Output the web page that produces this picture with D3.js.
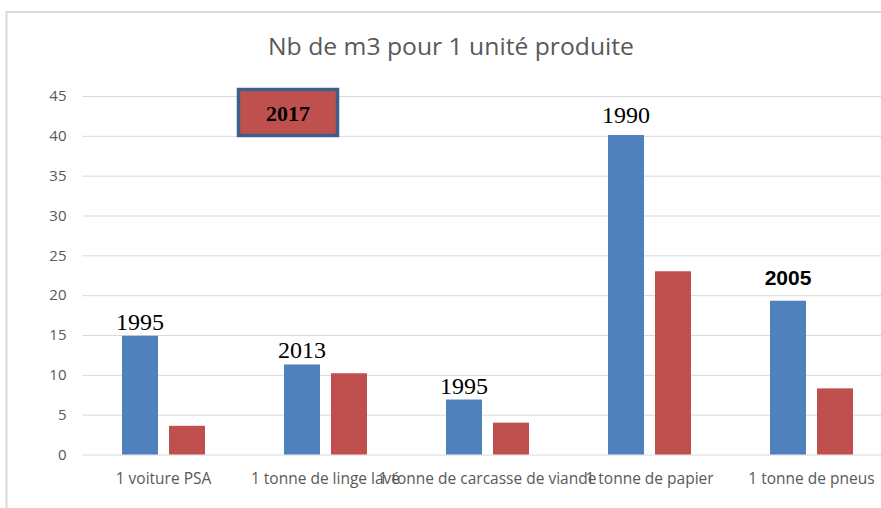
<!DOCTYPE html>
<html>
<head>
<meta charset="utf-8">
<script src="https://cdn.jsdelivr.net/npm/d3@7"></script>
<style>
  body { margin: 0; background: #fff; }
  svg { display: block; }
</style>
</head>
<body>
<div id="chart"></div>
<script>
// data
var categories = ["1 voiture PSA", "1 tonne de linge lavé", "1 tonne de carcasse de viande", "1 tonne de papier", "1 tonne de pneus"]
var oldValues = [14.9, 11.3, 6.9, 40.1, 19.3]
var newValues = [3.6, 10.2, 4.0, 23.0, 8.3]
var oldYears = ["1995", "2013", "1995", "1990", "2005"]
var newYear = "2017"
var yTicks = [0, 5, 10, 15, 20, 25, 30, 35, 40, 45]

var width = 881
var height = 508
var marginLeft = 82.5

const svg = d3.select("#chart")
    .append("svg")
    .attr("width", width)
    .attr("height", height)

// frame of the chart area
svg.append("rect")
    .attr("x", 6.5)
    .attr("y", 12)
    .attr("width", 1000)
    .attr("height", 600)
    .attr("fill", "#fff")
    .attr("stroke", "#d9d9d9")
    .attr("stroke-width", 2)

svg.append("text")
    .attr("x", 451)
    .attr("y", 55)
    .attr("text-anchor", "middle")
    .attr("font-family", "Open Sans")
    .attr("font-size", 23)
    .attr("fill", "#595959")
    .attr("textLength", 366)
    .attr("lengthAdjust", "spacingAndGlyphs")
    .text("Nb de m3 pour 1 unité produite")

var yScale = d3.scaleLinear()
    .domain([0, 45])
    .range([454.5, 96])

var x0 = d3.scaleBand()
    .domain(categories)
    .range([marginLeft, marginLeft + 810])
    .paddingInner(79 / 162)
    .paddingOuter(79 / 324)

var x1 = d3.scaleBand()
    .domain(["old", "new"])
    .range([0, x0.bandwidth()])
    .paddingInner(11 / 47)

// grid + y labels
var yAxis = d3.axisLeft(yScale)
    .tickValues(yTicks)
    .tickSize(-(width - marginLeft))
    .tickPadding(16)
var gy = svg.append("g")
    .attr("transform", "translate(" + marginLeft + ",0)")
    .call(yAxis)
gy.select(".domain").remove()
gy.selectAll(".tick line").attr("stroke", "#d9d9d9")
gy.selectAll(".tick text")
    .attr("font-family", "Open Sans")
    .attr("font-size", 15)
    .attr("fill", "#595959")

// category labels (they overlap in the original too)
var xAxis = d3.axisBottom(x0).tickSize(0).tickPadding(18)
var gx = svg.append("g")
    .attr("transform", "translate(0," + yScale(0) + ")")
    .call(xAxis)
gx.select(".domain").remove()
gx.selectAll(".tick text")
    .attr("font-family", "Open Sans")
    .attr("font-size", 15.5)
    .attr("fill", "#595959")

var groups = svg.append("g")
    .selectAll("g")
    .data(categories)
    .join("g")
    .attr("transform", d => "translate(" + x0(d) + ",0)")

groups.append("rect")
    .attr("x", x1("old"))
    .attr("width", x1.bandwidth())
    .attr("y", (d, i) => yScale(oldValues[i]))
    .attr("height", (d, i) => yScale(0) - yScale(oldValues[i]))
    .attr("fill", "#4f81bd")

groups.append("rect")
    .attr("x", x1("new"))
    .attr("width", x1.bandwidth())
    .attr("y", (d, i) => yScale(newValues[i]))
    .attr("height", (d, i) => yScale(0) - yScale(newValues[i]))
    .attr("fill", "#c0504d")

// year annotations over the blue bars; the last one is in a different font
groups.append("text")
    .attr("x", x1("old") + x1.bandwidth() / 2)
    .attr("y", (d, i) => yScale(oldValues[i]) - (i == 4 ? 16 : i == 3 ? 12 : 6))
    .attr("text-anchor", "middle")
    .attr("font-family", (d, i) => i == 4 ? "Liberation Sans" : "Liberation Serif")
    .attr("font-weight", (d, i) => i == 4 ? "bold" : "normal")
    .attr("font-size", (d, i) => i == 4 ? 21 : 24)
    .attr("fill", "#000")
    .text((d, i) => oldYears[i])

// "2017" box standing in for the legend
svg.append("rect")
    .attr("x", 238.5)
    .attr("y", 89.5)
    .attr("width", 99)
    .attr("height", 46)
    .attr("fill", "#c0504d")
    .attr("stroke", "#3e5f8a")
    .attr("stroke-width", 3.5)

svg.append("text")
    .attr("x", 288)
    .attr("y", 121)
    .attr("text-anchor", "middle")
    .attr("font-family", "Liberation Serif")
    .attr("font-weight", "bold")
    .attr("font-size", 22)
    .attr("fill", "#000")
    .text(newYear)
</script>
</body>
</html>
